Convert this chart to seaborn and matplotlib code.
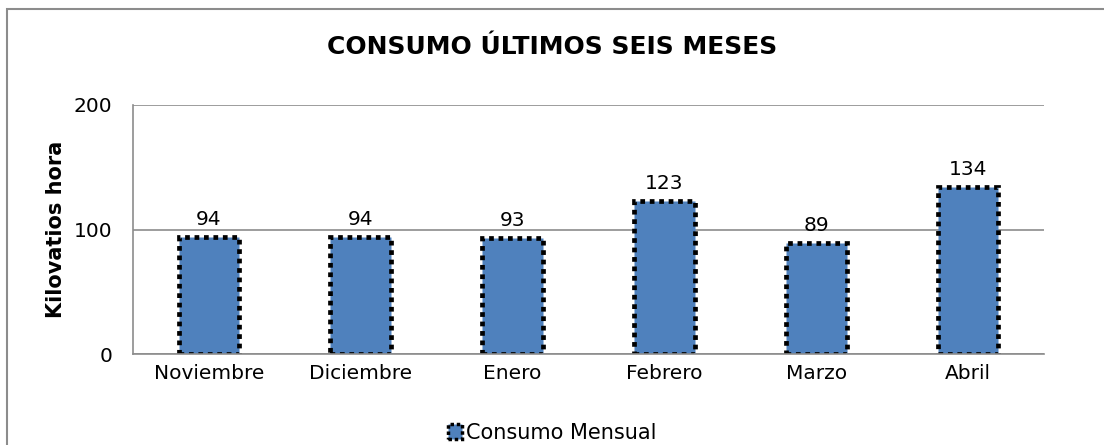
import pandas as pd
import seaborn as sns
import matplotlib.pyplot as plt
from matplotlib.patches import Rectangle, Patch

meses = ["Noviembre", "Diciembre", "Enero", "Febrero", "Marzo", "Abril"]
consumo = [94, 94, 93, 123, 89, 134]
serie = "Consumo Mensual"

df = pd.DataFrame({"mes": meses, "kwh": consumo})

sns.set_style("white")
plt.rcParams['font.family'] = ['DejaVu Sans']
plt.rcParams['text.color'] = 'black'

fig = plt.figure(figsize=(11.04, 4.45), dpi=100)
ax = fig.add_axes([133 / 1104, 1 - 354 / 445, (1044 - 133) / 1104, (354 - 105) / 445])

sns.barplot(data=df, x="mes", y="kwh", color="#4F81BD", width=0.4, saturation=1,
            edgecolor="black", linewidth=3.4, linestyle=(0, (1, 1)), ax=ax)

ax.set_ylim(0, 200)
ax.set_yticks([0, 100, 200])
ax.yaxis.grid(True, color="#8C8C8C", linewidth=1.2)
ax.set_axisbelow(True)
for s in ["top", "right"]:
    ax.spines[s].set_visible(False)
for s in ["left", "bottom"]:
    ax.spines[s].set_color("#8C8C8C")
    ax.spines[s].set_linewidth(1.2)
ax.tick_params(axis="both", labelsize=14.5, colors="black", labelcolor="black", length=0)
ax.tick_params(axis="y", pad=15)
ax.tick_params(axis="x", pad=7)
ax.set_xlabel("")
ax.set_ylabel("Kilovatios hora", fontsize=15, fontweight="bold", labelpad=5.5, color="black")

ax.bar_label(ax.containers[0], labels=[str(v) for v in consumo], fontsize=14.5, padding=6, color="black")

fig.suptitle("CONSUMO ÚLTIMOS SEIS MESES", fontsize=18, fontweight="bold", y=1 - 47 / 445,
             va="center", color="black")

handle = Patch(facecolor="#4F81BD", edgecolor="black", linewidth=2.5, linestyle=(0, (1, 0.8)))
leg = fig.legend([handle], [serie], loc="center", bbox_to_anchor=(0.5, 1 - 433 / 445), frameon=False,
                 fontsize=15, handlelength=0.7, handleheight=0.7, handletextpad=0.15)
for t in leg.get_texts():
    t.set_color("black")

fig.patches.append(Rectangle((7 / 1104, -0.05), 1.1, 1 - 9 / 445 + 0.05, transform=fig.transFigure,
                             fill=False, edgecolor="#8C8C8C", linewidth=1.5))

fig.savefig("out.png", dpi=100)
